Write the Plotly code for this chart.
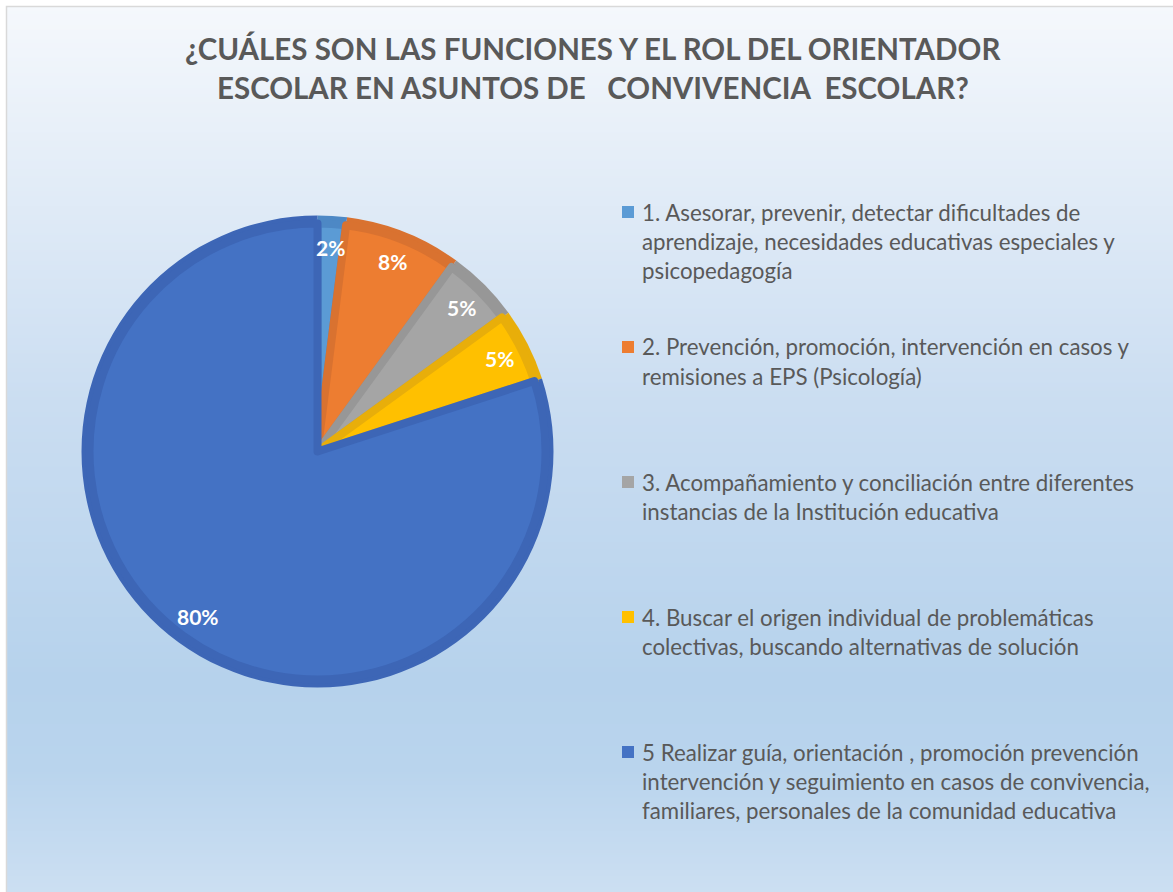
import numpy as np
import plotly.graph_objects as go

W, H = 1173, 892

# ---- data -------------------------------------------------------------
title_lines = [
    "¿CUÁLES SON LAS FUNCIONES Y EL ROL DEL ORIENTADOR",
    "ESCOLAR EN ASUNTOS DE   CONVIVENCIA  ESCOLAR?",
]
categories = [
    "1. Asesorar, prevenir, detectar dificultades de\naprendizaje, necesidades educativas especiales y\npsicopedagogía",
    "2. Prevención, promoción, intervención en casos y\nremisiones a EPS (Psicología)",
    "3. Acompañamiento y conciliación entre diferentes\ninstancias de la Institución educativa",
    "4. Buscar el origen individual de problemáticas\ncolectivas, buscando alternativas de solución",
    "5 Realizar guía, orientación , promoción prevención\nintervención y seguimiento en casos de convivencia,\nfamiliares, personales de la comunidad educativa",
]
percentages = [2, 8, 5, 5, 80]

# ---- style ------------------------------------------------------------
fill_colors = ["#5B9BD5", "#ED7D31", "#A5A5A5", "#FFC000", "#4472C4"]
edge_colors = ["#4D88C5", "#D97230", "#979797", "#E8AE0A", "#3D66B6"]
text_grey = "#595959"
FONT = "Lato"

cx, cy, R = 317.5, 451.5, 236.0   # pie centre / radius in pixels
bevel = 8.0


def px_x(x):
    return x / W


def px_y(y):
    return 1 - y / H


def pie_domain(r):
    return dict(x=[px_x(cx - r), px_x(cx + r)], y=[px_y(cy + r), px_y(cy - r)])


fig = go.Figure()

# background gradient inside the chart frame
frame = 6.5
grad_y = np.linspace(0, 1, 60)
stops = [(0.0, "#F5F8FC"), (0.45, "#CADDF1"), (0.76, "#B6D2EC"), (0.86, "#B9D4ED"), (1.0, "#CCDFF2")]
fig.add_trace(go.Heatmap(
    x=[0, 1], y=grad_y, z=[[1 - v, 1 - v] for v in grad_y],
    colorscale=[[s, c] for s, c in stops], zmin=0, zmax=1,
    zsmooth="best", showscale=False, hoverinfo="skip",
    xaxis="x", yaxis="y",
))

# darker rim of every slice
fig.add_trace(go.Pie(
    values=percentages, labels=[c.split("\n")[0] for c in categories],
    sort=False, direction="clockwise", rotation=0,
    marker=dict(colors=edge_colors, line=dict(width=0)),
    textinfo="none", hoverinfo="skip", showlegend=False,
    domain=pie_domain(R),
))
# lighter face of every slice, with a darker seam along the radial edges
fig.add_trace(go.Pie(
    values=percentages, labels=[c.split("\n")[0] for c in categories],
    sort=False, direction="clockwise", rotation=0,
    marker=dict(colors=fill_colors, line=dict(color=edge_colors, width=8)),
    textinfo="none", hoverinfo="skip", showlegend=False,
    domain=pie_domain(R - bevel),
))

annotations = []
shapes = []

# percentage labels placed on each slice's bisector
total = sum(percentages)
cum = np.cumsum([0] + percentages)
for i, v in enumerate(percentages):
    mid = (cum[i] + v / 2) / total * 2 * np.pi
    r_lab = 0.865 * R
    lx = cx + r_lab * np.sin(mid)
    ly = cy - r_lab * np.cos(mid)
    annotations.append(dict(
        x=px_x(lx), y=px_y(ly), xref="paper", yref="paper",
        text=f"<b>{v}%</b>", showarrow=False,
        font=dict(family=FONT, size=21, color="white"),
        xanchor="center", yanchor="middle",
    ))

# title
for k, line in enumerate(title_lines):
    annotations.append(dict(
        x=px_x(593), y=px_y(48 + 39 * k), xref="paper", yref="paper",
        text=f"<b>{line}</b>", showarrow=False,
        font=dict(family=FONT, size=29.5, color=text_grey),
        xanchor="center", yanchor="middle",
    ))

# legend
leg_x_box, leg_x_text = 622, 640
leg_y0, leg_step, line_step = 212, 135, 29.3
for i, cat in enumerate(categories):
    y_first = leg_y0 + leg_step * i
    shapes.append(dict(
        type="rect", xref="paper", yref="paper",
        x0=px_x(leg_x_box), x1=px_x(leg_x_box + 12),
        y0=px_y(y_first - 6), y1=px_y(y_first + 6),
        fillcolor=fill_colors[i], line=dict(width=0),
    ))
    for j, line in enumerate(cat.split("\n")):
        annotations.append(dict(
            x=px_x(leg_x_text), y=px_y(y_first + line_step * j),
            xref="paper", yref="paper", text=line, showarrow=False,
            font=dict(family=FONT, size=22.3, color=text_grey),
            xanchor="left", yanchor="middle",
        ))

# chart frame
shapes.append(dict(
    type="rect", xref="paper", yref="paper",
    x0=px_x(frame), x1=1.02, y0=-0.02, y1=px_y(frame),
    line=dict(color="#D9D9D9", width=1.5), fillcolor="rgba(0,0,0,0)",
))

fig.update_layout(
    width=W, height=H,
    margin=dict(l=0, r=0, t=0, b=0),
    paper_bgcolor="white",
    plot_bgcolor="rgba(0,0,0,0)",
    xaxis=dict(domain=[px_x(frame), 1], range=[0, 1], visible=False, fixedrange=True),
    yaxis=dict(domain=[0, px_y(frame)], range=[0, 1], visible=False, fixedrange=True),
    annotations=annotations,
    shapes=shapes,
    showlegend=False,
)

fig.write_html("out.html")
